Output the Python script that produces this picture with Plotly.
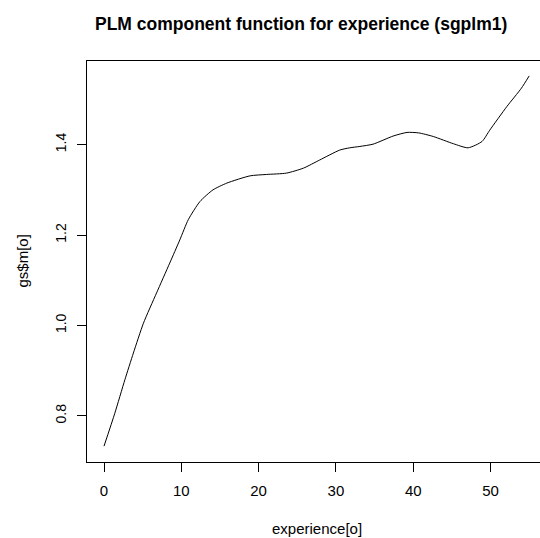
import plotly.graph_objects as go

experience = [0.0, 1.4, 2.7, 3.8, 5.1, 6.8, 8.5, 9.8, 10.9, 12.4, 14.1, 15.9, 18.9, 21.0,
              23.6, 25.8, 27.9, 30.5, 31.8, 33.1, 34.8, 37.4, 39.2, 40.7, 42.6, 45.2,
              47.1, 48.9, 49.9, 52.1, 54.0, 55.0]
m_values = [0.733, 0.806, 0.880, 0.939, 1.005, 1.072, 1.138, 1.189, 1.234, 1.274, 1.300,
            1.315, 1.331, 1.334, 1.337, 1.348, 1.366, 1.388, 1.393, 1.396, 1.401, 1.419,
            1.427, 1.426, 1.418, 1.402, 1.393, 1.407, 1.432, 1.484, 1.525, 1.552]
x_ticks = [0, 10, 20, 30, 40, 50]
y_ticks = [0.8, 1.0, 1.2, 1.4]
y_tick_labels = ["0.8", "1.0", "1.2", "1.4"]

FONT = "Liberation Sans, Arial, Helvetica, sans-serif"
W, H = 540, 538
L, R, T, B = 87, 0, 61, 76
pw = W - L - R
ph = H - T - B

fig = go.Figure()
fig.add_trace(go.Scatter(x=experience, y=m_values, mode="lines",
                         line=dict(color="black", width=1, shape="spline", smoothing=0.6),
                         hoverinfo="skip", showlegend=False))

fig.update_layout(
    width=W, height=H,
    margin=dict(l=L, r=R, t=T, b=B, pad=0),
    paper_bgcolor="white", plot_bgcolor="white",
    font=dict(family=FONT, size=14, color="black"),
    showlegend=False,
    xaxis=dict(range=[-2.2, 56.4], tickmode="array", tickvals=x_ticks,
               ticks="outside", ticklen=9, tickwidth=1, tickcolor="black",
               showline=True, linecolor="black", linewidth=1, mirror=True,
               showgrid=False, zeroline=False, ticklabelstandoff=6,
               tickfont=dict(family=FONT, size=15, color="black")),
    yaxis=dict(range=[0.698, 1.585], tickmode="array", tickvals=y_ticks,
               ticktext=y_tick_labels, tickangle=-90,
               ticks="outside", ticklen=9, tickwidth=1, tickcolor="black",
               showline=True, linecolor="black", linewidth=1, mirror=False,
               showgrid=False, zeroline=False, ticklabelstandoff=5,
               tickfont=dict(family=FONT, size=14, color="black")),
)

def px_x(p):
    return (p - L) / pw

def px_y(p):
    return (H - B - p) / ph

fig.add_annotation(text="<b>PLM component function for experience (sgplm1)</b>",
                   xref="paper", yref="paper", x=px_x(301), y=px_y(24),
                   xanchor="center", yanchor="middle", showarrow=False,
                   font=dict(family=FONT, size=17.5, color="black"))
fig.add_annotation(text="experience[o]", xref="paper", yref="paper",
                   x=px_x(316.5), y=px_y(528), xanchor="center", yanchor="middle",
                   showarrow=False, borderpad=0,
                   font=dict(family=FONT, size=15, color="black"))
fig.add_annotation(text="gs$m[o]", xref="paper", yref="paper",
                   x=px_x(21.5), y=px_y(261), xanchor="center", yanchor="middle",
                   textangle=-90, showarrow=False, borderpad=0,
                   font=dict(family=FONT, size=15, color="black"))

fig.write_html("out.html", config={"displayModeBar": False},
               post_script="document.body.style.margin='0px';")
